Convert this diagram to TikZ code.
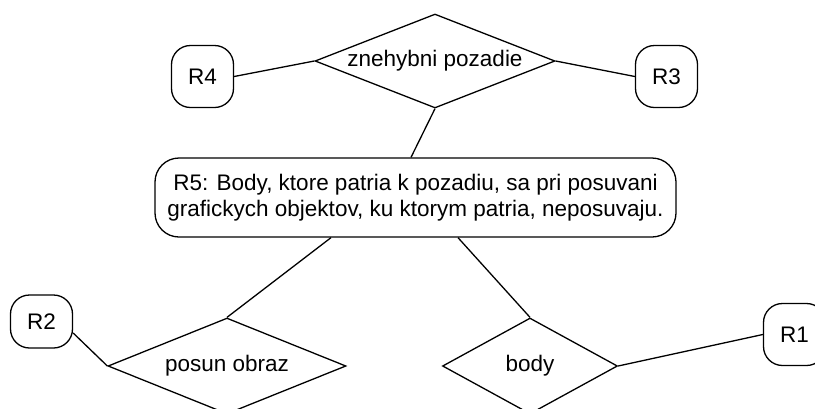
\documentclass[tikz,border=0pt]{standalone}
\usepackage{fontspec}
\setmainfont{Liberation Sans}
\usetikzlibrary{shapes.geometric}
\begin{document}
\begin{tikzpicture}[x=1pt,y=-1pt,
  every node/.style={font=\fontsize{22.5}{26}\selectfont, inner sep=0pt},
  rule/.style={draw, line width=1.3pt, rounded corners=19pt,
    minimum width=62pt, minimum height=62pt},
  bigrule/.style={draw, line width=1.3pt, rounded corners=24pt,
    minimum width=521pt, minimum height=79pt, align=center},
  rel/.style={draw, line width=1.3pt, shape=diamond},
  link/.style={line width=1.3pt}]
\useasboundingbox (0,0) rectangle (815,408);

% relationship diamonds
\node[rel, aspect=2.55, minimum width=240pt, minimum height=94pt] (znp) at (435,61) {znehybni pozadie};
\node[rel, aspect=2.48, minimum width=238pt, minimum height=96pt] (posun) at (227,366) {posun obraz};
\node[rel, aspect=1.82, minimum width=175pt, minimum height=96pt] (body) at (530,366) {body};

% rule boxes
\node[rule] (r4) at (202.5,76.5) {R4};
\node[rule] (r3) at (666.5,76.5) {R3};
\node[rule, minimum height=53pt] (r2) at (41.5,321.5) {R2};
\node[rule] (r1) at (794.5,334.5) {R1};
\node[bigrule] (r5) at (415.5,197.5) {R5: Body, ktore patria k pozadiu, sa pri posuvani\\grafickych objektov, ku ktorym patria, neposuvaju.};

% connectors
\draw[link] (r4.east) -- (znp.west);
\draw[link] (znp.east) -- (r3.west);
\draw[link] (znp.south) -- ([xshift=-4.5pt]r5.north);
\draw[link] ([xshift=-84.5pt]r5.south) -- (posun.north);
\draw[link] ([xshift=42.5pt]r5.south) -- (body.north);
\draw[link] ([yshift=-11.5pt]r2.east) -- (posun.west);
\draw[link] (body.east) -- (r1.west);
\end{tikzpicture}
\end{document}
